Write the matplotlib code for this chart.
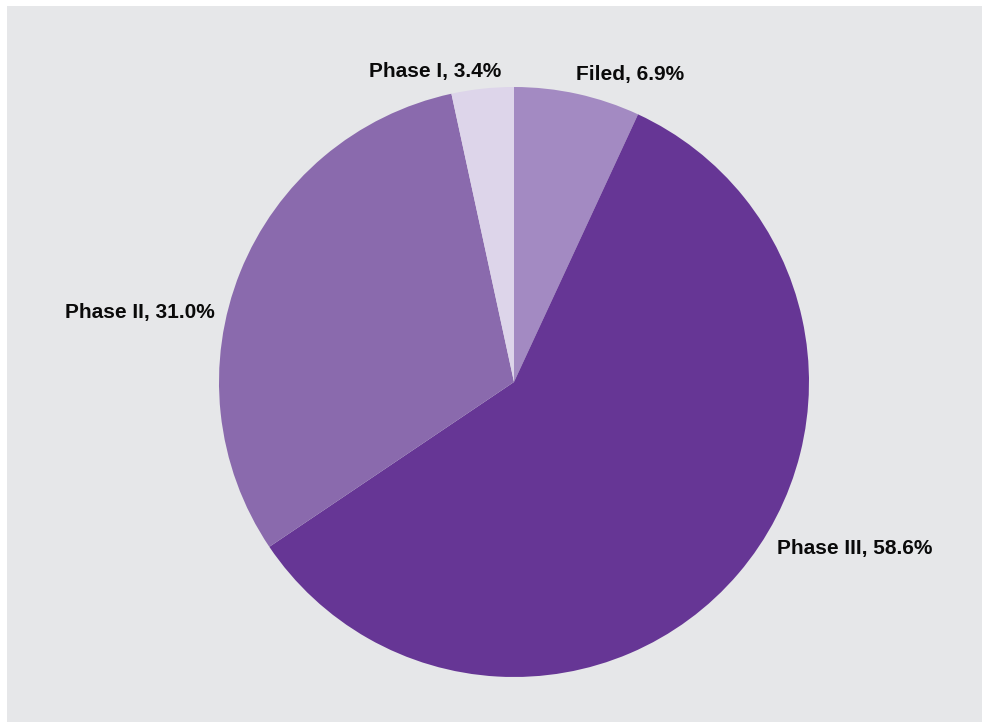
import matplotlib
matplotlib.use('Agg')
from matplotlib import pyplot as plt
from matplotlib.patches import Rectangle

labels = ['Filed', 'Phase III', 'Phase II', 'Phase I']
shares = [6.9, 58.6, 31.0, 3.4]
colors = ['#a38ac2', '#663695', '#8a6aad', '#ddd5ea']

# label centres, in units of the pie radius
label_pos = [(0.393, 1.041), (1.156, -0.566), (-1.268, 0.234), (-0.268, 1.054)]

plt.rcParams['font.family'] = ['Liberation Sans', 'DejaVu Sans']

fig = plt.figure(figsize=(9.82, 7.24), dpi=100, facecolor='white')
fig.patches.append(Rectangle((7 / 982, 2 / 724), 1, 1 - 8 / 724,
                             transform=fig.transFigure, facecolor='#e6e7e9',
                             edgecolor='none', zorder=-10))

ax = fig.add_axes([0, 0, 1, 1])
ax.set_facecolor('none')
ax.pie(shares, colors=colors, startangle=90, counterclock=False,
       radius=1, center=(0, 0), wedgeprops=dict(linewidth=0))
ax.set_xlim(-514 / 295, 468 / 295)
ax.set_ylim(-342 / 295, 382 / 295)
ax.set_aspect('equal')
ax.axis('off')

for name, val, (x, y) in zip(labels, shares, label_pos):
    ax.text(x, y, f'{name}, {val:.1f}%', ha='center', va='center',
            fontsize=15, fontweight='bold', color='#0a0a0a')

fig.savefig('out.png', dpi=100, facecolor='white')
